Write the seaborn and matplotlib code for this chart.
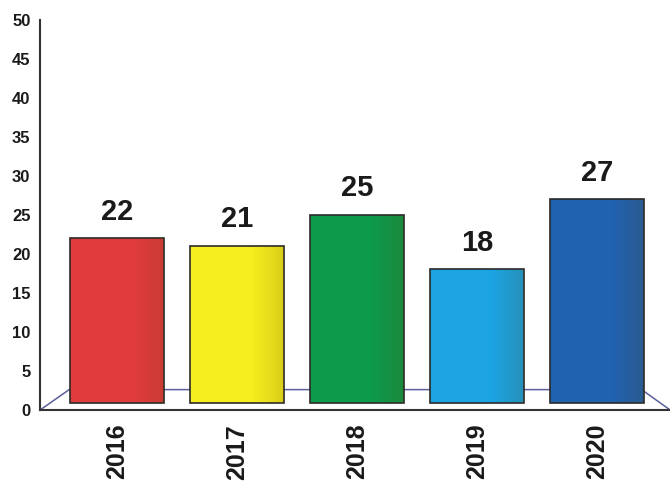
import matplotlib
matplotlib.use('Agg')
import matplotlib.pyplot as plt
import numpy as np
import pandas as pd
import seaborn as sns

# Data
years = ['2016', '2017', '2018', '2019', '2020']
values = [22, 21, 25, 18, 27]
bar_colors = ['#e23b3e', '#f7ee1f', '#0e9a4b', '#1ca3e2', '#2062b0']

df = pd.DataFrame({'year': years, 'value': values})

sns.set_style('white')
plt.rcParams['font.family'] = ['Liberation Sans', 'DejaVu Sans']

fig = plt.figure(figsize=(6.7, 4.88), dpi=100)
ax = fig.add_axes([0.06, 0.16, 0.94, 0.80])

sns.barplot(data=df, x='year', y='value', hue='year', palette=bar_colors,
            legend=False, width=0.78, edgecolor='#2a2a2a', linewidth=1.2,
            saturation=1, ax=ax, zorder=3)

# bars sit on the "floor", a little above zero
floor = 0.9
for p in ax.patches:
    h = p.get_height()
    p.set_y(floor)
    p.set_height(h - floor)

# slight cylinder shading: darker towards the right edge
t = np.linspace(0, 1, 200)
alpha = np.clip((t - 0.65) / 0.35, 0, 1) * 0.18
shade = np.zeros((1, 200, 4))
shade[..., 3] = alpha
shade[..., 0] = 0.35
shade[..., 1] = 0.25
for p in list(ax.patches):
    x0, y0 = p.get_x(), p.get_y()
    im = ax.imshow(shade, extent=[x0, x0 + p.get_width(), y0, y0 + p.get_height()],
                   aspect='auto', zorder=3.5, interpolation='bilinear')
    im.set_clip_path(p)

for c, v in zip(ax.containers, values):
    ax.bar_label(c, labels=[str(v)], padding=9, fontsize=21, fontweight='bold',
                 color='#1a1a1a')

# 3D-ish floor outline
floor_kw = dict(transform=ax.transAxes, color='#5a5f9a', lw=1.1, zorder=2,
                clip_on=False)
ax.plot([0.0, 0.046, 0.955, 1.0], [0.0, 0.052, 0.052, 0.0], **floor_kw)

ax.set_xlim(-0.64, 4.61)
ax.set_ylim(0, 50)
ax.set_yticks(range(0, 51, 5))
ax.set_xlabel('')
ax.set_ylabel('')

ax.set_xticks([0.4, 1.45, 2.5, 3.55], minor=True)
ax.tick_params(axis='x', which='major', length=0, pad=10, labelsize=18,
               labelrotation=90)
ax.tick_params(axis='x', which='minor', length=6, width=1.3, color='#333333',
               direction='out')
ax.tick_params(axis='y', length=5, width=1.3, color='#333333', labelsize=12,
               pad=2, direction='out')
for lab in ax.get_xticklabels() + ax.get_yticklabels():
    lab.set_fontweight('bold')
    lab.set_color('#1a1a1a')

for s in ['top', 'right']:
    ax.spines[s].set_visible(False)
for s in ['left', 'bottom']:
    ax.spines[s].set_color('#333333')
    ax.spines[s].set_linewidth(1.5)

fig.savefig('out.png', dpi=100)
